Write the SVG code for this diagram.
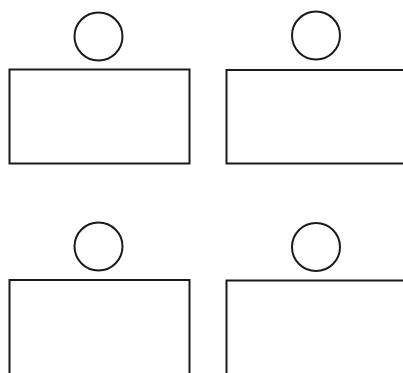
<svg xmlns="http://www.w3.org/2000/svg" width="403" height="373" viewBox="0 0 403 373">
<style>
.s{fill:none;stroke:#1a1a1a;stroke-width:2}
</style>
<rect width="403" height="373" fill="#fff"/>
<g id="node-tl"><circle class="s" cx="98.5" cy="36.5" r="24"/><rect class="s" x="9.5" y="69.5" width="180" height="94"/></g>
<g id="node-tr"><circle class="s" cx="316" cy="35.5" r="24"/><rect class="s" x="226.5" y="70" width="190" height="93.5"/></g>
<g id="node-bl"><circle class="s" cx="98.5" cy="246.5" r="24"/><rect class="s" x="9.5" y="280" width="180" height="110"/></g>
<g id="node-br"><circle class="s" cx="316" cy="247" r="24"/><rect class="s" x="226.5" y="280.5" width="190" height="110"/></g>
<g id="connectors"></g>
</svg>
